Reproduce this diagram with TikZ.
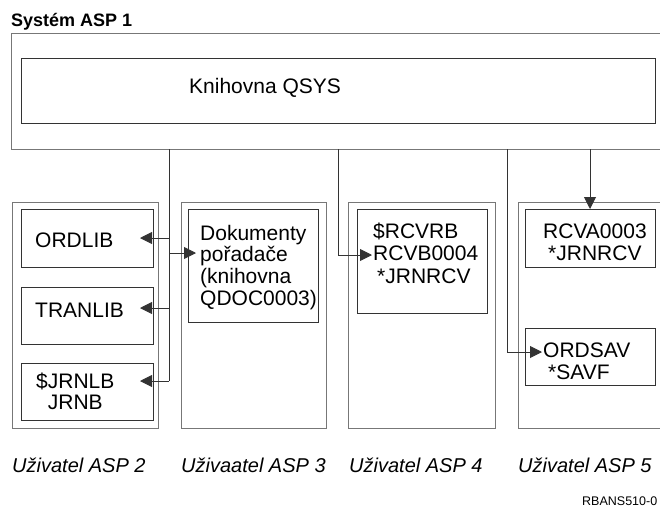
\documentclass[tikz,border=0pt]{standalone}
\usepackage{fontspec}
\setmainfont{Liberation Sans}
\usetikzlibrary{arrows.meta}
\definecolor{outerc}{HTML}{777777}
\definecolor{innerc}{HTML}{333333}
\definecolor{linkc}{HTML}{333333}
\begin{document}
\begin{tikzpicture}[x=1pt,y=-1pt,
  outerbox/.style={draw=outerc, line width=1.4pt, inner sep=0pt, anchor=north west},
  innerbox/.style={draw=innerc, line width=1pt, inner sep=0pt, anchor=north west},
  boxtext/.style={inner sep=0pt, anchor=base west, font=\fontsize{21}{21.7}\selectfont},
  lbl/.style={inner sep=0pt, anchor=base west, font=\fontsize{20}{22}\selectfont\itshape},
  link/.style={draw=linkc, line width=0.9pt},
  arr/.style={link, -{Triangle[length=12pt,width=12pt]}}]
\useasboundingbox (0,0) rectangle (660,509);
\clip (0,0) rectangle (660,509);

% title
\node[inner sep=0pt, anchor=base west, font=\fontsize{18}{20}\selectfont\bfseries] (title) at (11,26) {Systém ASP 1};

% system ASP 1
\node[outerbox, minimum width=700pt, minimum height=116pt] (sys) at (11,33) {};
\node[innerbox, minimum width=634pt, minimum height=65pt] (qsys) at (21,58) {};
\node[boxtext] (qsyst) at (189,93) {Knihovna QSYS};

% ASP 2
\node[outerbox, minimum width=146pt, minimum height=226pt] (asp2) at (12,202) {};
\node[innerbox, minimum width=132pt, minimum height=58pt] (ordlib) at (21,209) {};
\node[innerbox, minimum width=132pt, minimum height=57pt] (tranlib) at (21,287) {};
\node[innerbox, minimum width=132pt, minimum height=57pt] (jrnlb) at (21,363) {};
\node[boxtext] (ordlibt) at (35,247) {ORDLIB};
\node[boxtext] (tranlibt) at (35,317) {TRANLIB};
\node[boxtext] (jrnlbt) at (36,388) {\begin{tabular}[t]{@{}c@{}}\$JRNLB\\JRNB\end{tabular}};

% ASP 3
\node[outerbox, minimum width=145pt, minimum height=226pt] (asp3) at (181,202) {};
\node[innerbox, minimum width=130pt, minimum height=113pt] (dok) at (188,209) {};
\node[boxtext] (dokt) at (200,240) {\begin{tabular}[t]{@{}l@{}}Dokumenty\\pořadače\\(knihovna\\QDOC0003)\end{tabular}};

% ASP 4
\node[outerbox, minimum width=147pt, minimum height=226pt] (asp4) at (348,202) {};
\node[innerbox, minimum width=130pt, minimum height=104pt] (rcvrb) at (357,209) {};
\node[boxtext, font=\fontsize{21}{22.5}\selectfont] (rcvrbt) at (373,238) {\begin{tabular}[t]{@{}l@{}}\$RCVRB\\RCVB0004\\\hspace{4pt}*JRNRCV\end{tabular}};

% ASP 5
\node[outerbox, minimum width=200pt, minimum height=226pt] (asp5) at (518,202) {};
\node[innerbox, minimum width=130pt, minimum height=58pt] (rcva) at (525,209) {};
\node[innerbox, minimum width=130pt, minimum height=57pt] (ordsav) at (525,328) {};
\node[boxtext, font=\fontsize{21}{22.5}\selectfont] (rcvat) at (543,238) {\begin{tabular}[t]{@{}l@{}}RCVA0003\\\hspace{5pt}*JRNRCV\end{tabular}};
\node[boxtext, font=\fontsize{21}{22}\selectfont] (ordsavt) at (543,357) {\begin{tabular}[t]{@{}l@{}}ORDSAV\\\hspace{5pt}*SAVF\end{tabular}};

% labels
\node[lbl] (l2) at (12,472) {Uživatel ASP 2};
\node[lbl] (l3) at (181,472) {Uživaatel ASP 3};
\node[lbl] (l4) at (349,472) {Uživatel ASP 4};
\node[lbl] (l5) at (518,472) {Uživatel ASP 5};
\node[inner sep=0pt, anchor=base west, font=\fontsize{12.5}{14}\selectfont] (code) at (582,505) {RBANS510-0};

% connectors
\coordinate (t1) at (169,149);
\coordinate (t2) at (338,149);
\coordinate (t3) at (507,149);
\coordinate (t4) at (590,149);
\coordinate (pOrd) at (140,238);
\coordinate (pTran) at (140,308);
\coordinate (pJrn) at (140,381);
\coordinate (pDok) at (196,253);
\coordinate (pRcvb) at (372,255);
\coordinate (pOrds) at (542,352);

\draw[link] (t1) -- (t1 |- pJrn);
\draw[arr] (t1 |- pOrd) -- (pOrd);
\draw[arr] (t1 |- pTran) -- (pTran);
\draw[arr] (t1 |- pJrn) -- (pJrn);
\draw[arr] (t1 |- pDok) -- (pDok);
\draw[arr] (t2) |- (pRcvb);
\draw[arr] (t3) |- (pOrds);
\draw[arr] (t4) -- (t4 |- rcva.north);
\end{tikzpicture}
\end{document}
